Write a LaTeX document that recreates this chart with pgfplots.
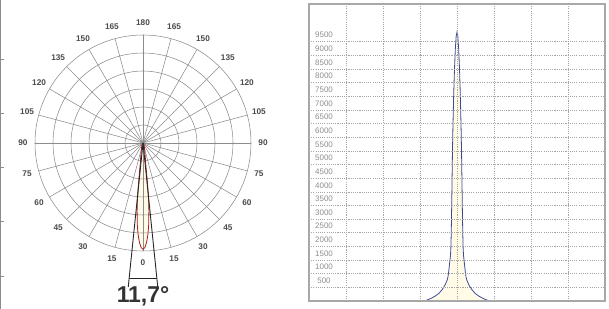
\documentclass[border=0pt]{standalone}
\usepackage{fontspec}
\setmainfont{Liberation Sans}
\usepackage{pgfplots}
\usepackage{pgfplotstable}
\pgfplotsset{compat=1.18}
\definecolor{gridc}{HTML}{8C8C8C}
\definecolor{lblc}{HTML}{4A4A4A}
\definecolor{cream}{HTML}{FFFBE6}
\definecolor{lobered}{HTML}{A31A22}
\definecolor{curveblue}{HTML}{3B4A9C}
\definecolor{framec}{HTML}{A8A8A8}
\definecolor{dotc}{HTML}{A5A5A5}
\definecolor{ticklc}{HTML}{8E8E8E}

\pgfplotstableread{
t I
-180 0
-40 0
-36 40
-32 90
-27 170
-22 280
-18 420
-15 560
-12 760
-11 880
-10 1100
-9 1380
-8 1650
-7.5 1900
-7 2500
-6.5 3400
-6 4500
-5.5 5500
-5 6300
-4 7600
-3 8550
-2 9250
-1 9700
0 9850
1 9700
2 9250
3 8550
4 7600
5 6300
5.5 5500
6 4500
6.5 3400
7 2500
7.5 1900
8 1650
9 1380
10 1100
11 880
12 760
15 560
18 420
22 280
27 170
32 90
36 40
40 0
180 0
}\intensity

\begin{document}
\begin{tikzpicture}
\useasboundingbox (0,0) rectangle (609bp,309bp);
% crop edge artefact on the far left
\draw[gridc, line width=0.8pt] (0.6bp,0) -- (0.6bp,309bp);
\foreach \yy in {59,113,167,221,276} {\draw[gridc, line width=0.6pt] (0.6bp,{(309-\yy)*1bp}) -- (3.5bp,{(309-\yy)*1bp});}

% ---------- polar diagram ----------
\begin{axis}[
  at={(143bp,166bp)}, anchor=origin,
  x=0.0108bp, y=0.0108bp,
  xmin=-12000, xmax=12000, ymin=-13500, ymax=13500,
  hide axis, clip=false,
]
\addplot[draw=none, fill=cream, data cs=polar] table[x expr=\thisrow{t}-90, y=I]{\intensity};
\pgfplotsinvokeforeach{18,36,54,72,90,108}{
  \draw[gridc, line width=0.55pt] (axis cs:0,0) circle[radius=#1bp];
}
\pgfplotsinvokeforeach{0,15,...,345}{
  \draw[gridc, line width=0.55pt] (axis cs:0,0) -- ++(#1:108bp);
}
\addplot[draw=lobered, line width=0.8pt, data cs=polar] table[x expr=\thisrow{t}-90, y=I]{\intensity};
\coordinate (C) at (axis cs:0,0);
\end{axis}

% beam-angle cone
\draw[black!85, line width=0.9pt] (C) -- ++(-95.85:144.8bp);
\draw[black!85, line width=0.9pt] (C) -- ++(-84.15:144.8bp);
\draw[black!85, line width=0.9pt] ([shift={(-13.9bp,-135bp)}]C) -- ([shift={(13.9bp,-135bp)}]C);

% angle labels
\begin{scope}[every node/.style={text=lblc, font=\fontsize{8.3}{9}\selectfont\bfseries, inner sep=0pt}]
\path (C) ++(-90:120bp) node {0};
\path (C) ++(90:120bp) node {180};
\foreach \t in {15,30,...,165} {
  \path (C) ++({-90-\t}:120bp) node {\t};
  \path (C) ++({-90+\t}:120bp) node {\t};
}
\end{scope}
\node[text=black!80, font=\fontsize{23}{26}\selectfont\bfseries, inner sep=0pt] at (143bp,12.5bp) {11,7°};

% ---------- cartesian diagram ----------
\begin{axis}[
  at={(309bp,8bp)}, anchor=south west,
  scale only axis, width=296bp, height=297bp,
  xmin=-180, xmax=180, ymin=0, ymax=10880,
  xtick={-135,-90,-45,0,45,90,135}, xticklabels={},
  ytick={500,1000,...,9500},
  major tick length=0pt,
  scaled ticks=false,
  /pgf/number format/1000 sep={},
  /pgf/number format/assume math mode=true,
  yticklabel style={anchor=center, xshift=15bp, yshift=6.5bp, text=ticklc, font=\fontsize{8}{9}\selectfont, inner sep=0pt},
  grid=major,
  major grid style={dotc, line width=0.6pt, dash pattern=on 1.1pt off 1.1pt},
  axis line style={framec, line width=1.2pt},
  axis on top,
  clip=false,
]
\addplot[draw=curveblue, line width=0.8pt, fill=cream] table[x=t, y=I]{\intensity} \closedcycle;
\end{axis}
\end{tikzpicture}
\end{document}
